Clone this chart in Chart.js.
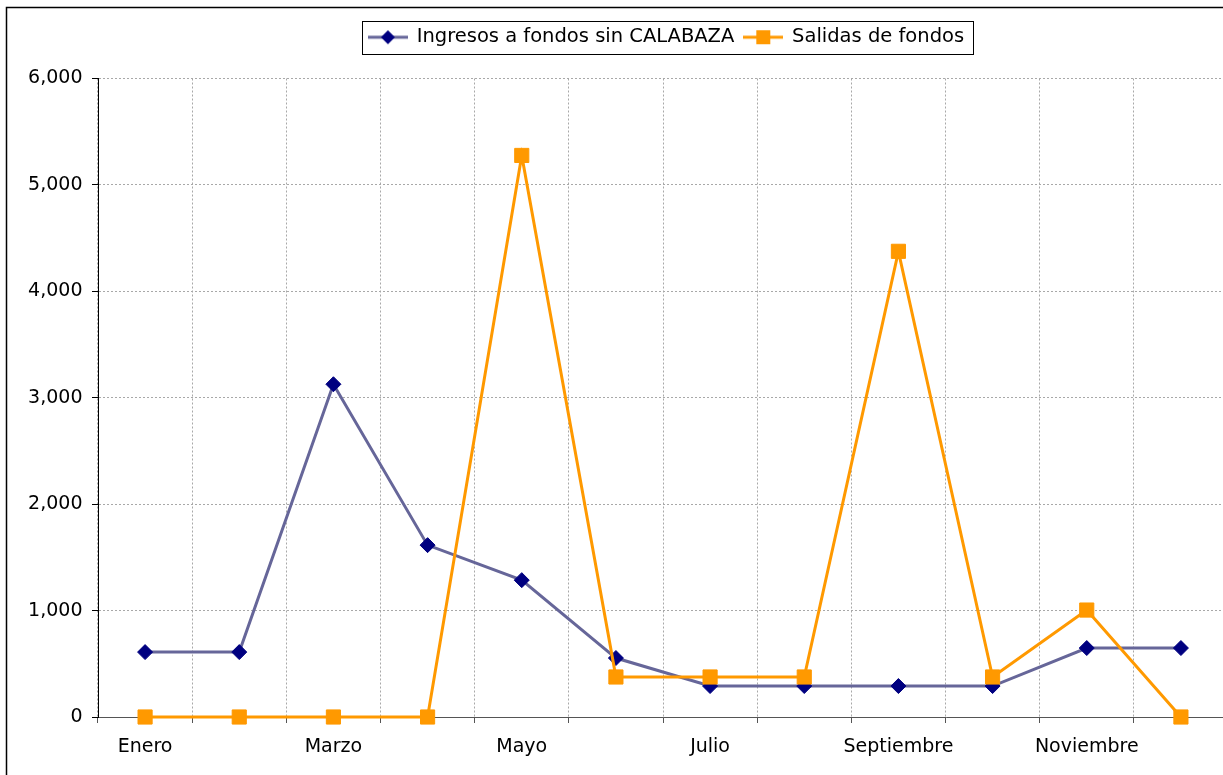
<!DOCTYPE html>
<html><head><meta charset="utf-8">
<script src="https://cdn.jsdelivr.net/npm/chart.js@4/dist/chart.umd.min.js"></script>
<style>
html,body{margin:0;padding:0;overflow:hidden;background:#fff;width:1223px;height:775px}
#wrap{position:absolute;left:0;top:0;width:1333px;height:775px}
</style>
</head><body><div id="wrap"><canvas id="c" width="1333" height="775"></canvas></div>
<script>
const months = ['Enero','Febrero','Marzo','Abril','Mayo','Junio','Julio','Agosto','Septiembre','Octubre','Noviembre','Diciembre'];
const ingresos = [610, 610, 3127, 1615, 1286, 554, 291, 291, 291, 291, 648, 648];
const salidas = [0, 0, 0, 0, 5277, 376, 376, 376, 4376, 376, 1005, 0];
const seriesNames = ['Ingresos a fondos sin CALABAZA', 'Salidas de fondos'];
const yMin = 0, yMax = 6000, yStep = 1000;

const FONT = 'DejaVu Sans';

function legendIcon(lineColor, markerColor, shape) {
  const c = document.createElement('canvas');
  c.width = 40; c.height = 16;
  const x = c.getContext('2d');
  x.strokeStyle = lineColor; x.lineWidth = 3;
  x.beginPath(); x.moveTo(0, 8); x.lineTo(40, 8); x.stroke();
  x.fillStyle = markerColor;
  if (shape === 'diamond') {
    x.beginPath(); x.moveTo(13, 8); x.lineTo(20, 1); x.lineTo(27, 8); x.lineTo(20, 15); x.closePath(); x.fill();
  } else {
    x.fillRect(13, 1, 14, 14);
  }
  return c;
}
const icons = [legendIcon('#666699', '#000080', 'diamond'), legendIcon('#FF9900', '#FF9900', 'square')];

const framePlugin = {
  id: 'frame',
  beforeDraw(chart) {
    const ctx = chart.ctx;
    ctx.save();
    ctx.fillStyle = '#fff';
    ctx.fillRect(0, 0, chart.width, chart.height);
    ctx.strokeStyle = '#000';
    ctx.lineWidth = 1.5;
    ctx.beginPath();
    ctx.moveTo(6.5, chart.height + 5);
    ctx.lineTo(6.5, 7.5);
    ctx.lineTo(chart.width + 5, 7.5);
    ctx.stroke();
    ctx.restore();
  },
  afterDraw(chart) {
    const hb = chart.legend.legendHitBoxes;
    if (!hb || !hb.length) return;
    let l = Infinity, r = -Infinity, t = Infinity, b = -Infinity;
    hb.forEach(h => { l = Math.min(l, h.left); r = Math.max(r, h.left + h.width); t = Math.min(t, h.top); b = Math.max(b, h.top + h.height); });
    const ctx = chart.ctx;
    ctx.save();
    ctx.strokeStyle = '#000'; ctx.lineWidth = 1;
    ctx.strokeRect(Math.round(l - 7) + 0.5, Math.round(t - 6.5) + 0.5, Math.round(r - l + 16), Math.round(b - t + 13));
    ctx.restore();
  }
};

new Chart(document.getElementById('c'), {
  type: 'line',
  data: {
    labels: months,
    datasets: [
      {
        label: seriesNames[0], data: ingresos, order: 1,
        borderColor: '#666699', borderWidth: 3, backgroundColor: '#000080',
        pointStyle: 'rectRot', pointRadius: 7.5, pointBorderWidth: 1,
        pointBackgroundColor: '#000080', pointBorderColor: '#000080',
        tension: 0, clip: false, fill: false
      },
      {
        label: seriesNames[1], data: salidas, order: 0,
        borderColor: '#FF9900', borderWidth: 3, backgroundColor: '#FF9900',
        pointStyle: 'rect', pointRadius: 10, pointBorderWidth: 1,
        pointBackgroundColor: '#FF9900', pointBorderColor: '#FF9900',
        tension: 0, clip: false, fill: false
      }
    ]
  },
  options: {
    responsive: false,
    animation: false,
    events: [],
    layout: { padding: { top: 17.5, left: 0, right: 0, bottom: 0 } },
    plugins: {
      tooltip: { enabled: false },
      title: { display: false },
      legend: {
        display: true, position: 'top', align: 'center',
        labels: {
          usePointStyle: true, pointStyleWidth: 38, padding: 10,
          color: '#000', font: { family: FONT, size: 19.5 },
          sort: (a, b) => a.datasetIndex - b.datasetIndex,
          generateLabels(chart) {
            const items = Chart.defaults.plugins.legend.labels.generateLabels(chart);
            items.forEach(it => { it.pointStyle = icons[it.datasetIndex]; });
            return items;
          }
        }
      }
    },
    scales: {
      x: {
        type: 'category', position: 'bottom', offset: true,
        afterFit(s) { s.height = 58; },
        grid: { offset: true, color: '#a8a8a8', lineWidth: 1, tickLength: 6, tickColor: '#555', tickWidth: 1, tickBorderDash: [] },
        border: { display: true, color: '#555', width: 1, dash: [2, 2] },
        ticks: {
          autoSkip: false, maxRotation: 0, minRotation: 0, padding: 13,
          color: '#000', font: { family: FONT, size: 19 },
          callback: (v, i) => (i % 2 === 0 ? months[i] : '')
        }
      },
      xTop: {
        type: 'category', position: 'top', display: true,
        grid: { display: false }, ticks: { display: false }, border: { display: false },
        afterFit(s) { s.height = 21.5; }
      },
      y: {
        type: 'linear', position: 'left', min: yMin, max: yMax,
        afterFit(s) { s.width = 98; },
        grid: { color: '#a8a8a8', lineWidth: 1, tickLength: 6, tickColor: '#000', tickWidth: 1, tickBorderDash: [] },
        border: { display: true, color: '#000', width: 1, dash: [2, 2] },
        ticks: {
          stepSize: yStep, padding: 9.5, color: '#000', font: { family: FONT, size: 19 },
          callback: v => v.toLocaleString('en-US')
        }
      },
      yRight: {
        type: 'linear', position: 'right', display: true,
        grid: { display: false }, ticks: { display: false }, border: { display: false },
        afterFit(s) { s.width = 105; }
      }
    }
  },
  plugins: [framePlugin]
});
</script>
</body></html>
